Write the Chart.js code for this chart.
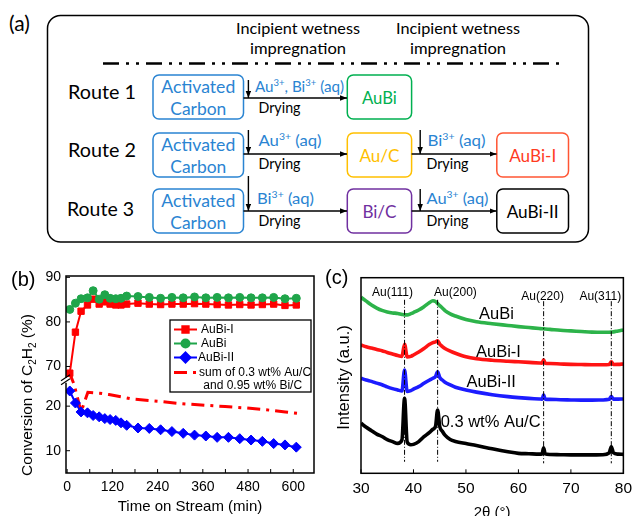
<!DOCTYPE html>
<html><head><meta charset="utf-8">
<script src="https://cdn.jsdelivr.net/npm/chart.js@4.4.1/dist/chart.umd.min.js"></script>
<style>
html,body{margin:0;padding:0;background:#fff;}
#wrap{position:relative;width:638px;height:516px;overflow:hidden;background:#fff;}
#scheme{position:absolute;left:0;top:0;}
#cb{position:absolute;left:0;top:255px;}
#cc{position:absolute;left:320px;top:255px;}
svg text{font-family:Lato,'Open Sans',sans-serif;}
</style></head><body>
<div id="wrap">
<svg id="scheme" width="638" height="255" viewBox="0 0 638 255" xmlns="http://www.w3.org/2000/svg">
<defs><marker id="ah" markerWidth="7" markerHeight="6" refX="7" refY="3" orient="auto" markerUnits="userSpaceOnUse"><path d="M0,0.3 L7,3 L0,5.7 z" fill="#000"/></marker></defs>
<text x="9" y="31" font-size="21">(a)</text>
<rect x="47.5" y="15.5" width="541" height="226.5" rx="13" fill="none" stroke="#000" stroke-width="1.5"/>
<text x="236" y="34" font-size="16" textLength="124" lengthAdjust="spacingAndGlyphs">Incipient wetness</text>
<text x="250" y="54" font-size="16" textLength="96" lengthAdjust="spacingAndGlyphs">impregnation</text>
<text x="396" y="34" font-size="16" textLength="124" lengthAdjust="spacingAndGlyphs">Incipient wetness</text>
<text x="410" y="54" font-size="16" textLength="96" lengthAdjust="spacingAndGlyphs">impregnation</text>
<line x1="103" y1="63.5" x2="563" y2="63.5" stroke="#000" stroke-width="2.6" stroke-dasharray="16 7 3 7 3 7"/>
<text x="68" y="99" font-size="20" textLength="68" lengthAdjust="spacingAndGlyphs">Route 1</text>
<text x="68" y="157" font-size="20" textLength="68" lengthAdjust="spacingAndGlyphs">Route 2</text>
<text x="67" y="216" font-size="20" textLength="67" lengthAdjust="spacingAndGlyphs">Route 3</text>
<g fill="none" stroke-width="1.5">
<rect x="153" y="75" width="90.5" height="44" rx="6" stroke="#2a84d2"/>
<rect x="347.3" y="75" width="64.3" height="44" rx="6" stroke="#00b050"/>
<rect x="153" y="133" width="90.5" height="44" rx="6" stroke="#2a84d2"/>
<rect x="347.3" y="133" width="64.3" height="44" rx="6" stroke="#ffc000"/>
<rect x="496.8" y="133" width="71.7" height="44" rx="6" stroke="#ff5533"/>
<rect x="153" y="189" width="90.5" height="44" rx="6" stroke="#2a84d2"/>
<rect x="347.3" y="189" width="64.3" height="44" rx="6" stroke="#7030a0"/>
<rect x="496.8" y="189" width="71.7" height="44" rx="6" stroke="#000"/>
</g>
<g fill="#2a84d2" font-size="18" text-anchor="middle">
<text x="198.3" y="93" textLength="74" lengthAdjust="spacingAndGlyphs">Activated</text>
<text x="198.3" y="115" textLength="56" lengthAdjust="spacingAndGlyphs">Carbon</text>
<text x="198.3" y="151" textLength="74" lengthAdjust="spacingAndGlyphs">Activated</text>
<text x="198.3" y="173" textLength="56" lengthAdjust="spacingAndGlyphs">Carbon</text>
<text x="198.3" y="207" textLength="74" lengthAdjust="spacingAndGlyphs">Activated</text>
<text x="198.3" y="229" textLength="56" lengthAdjust="spacingAndGlyphs">Carbon</text>
</g>
<g font-size="16.5" text-anchor="middle">
<text x="379.4" y="104" fill="#00b050" textLength="35" lengthAdjust="spacingAndGlyphs">AuBi</text>
<text x="379.4" y="162" fill="#ffc000" textLength="40" lengthAdjust="spacingAndGlyphs">Au/C</text>
<text x="532.7" y="162" fill="#ff3b1f" textLength="47" lengthAdjust="spacingAndGlyphs">AuBi-I</text>
<text x="379.4" y="218" fill="#7030a0" textLength="34" lengthAdjust="spacingAndGlyphs">Bi/C</text>
<text x="532.7" y="218" fill="#000" textLength="52" lengthAdjust="spacingAndGlyphs">AuBi-II</text>
</g>
<g fill="#2a84d2" font-size="16">
<text x="255" y="92" textLength="89" lengthAdjust="spacingAndGlyphs">Au<tspan dy="-6" font-size="10">3+</tspan><tspan dy="6">, Bi</tspan><tspan dy="-6" font-size="10">3+</tspan><tspan dy="6"> (aq)</tspan></text>
<text x="258.5" y="146" textLength="63" lengthAdjust="spacingAndGlyphs">Au<tspan dy="-6" font-size="10">3+</tspan><tspan dy="6"> (aq)</tspan></text>
<text x="427.5" y="146" textLength="58" lengthAdjust="spacingAndGlyphs">Bi<tspan dy="-6" font-size="10">3+</tspan><tspan dy="6"> (aq)</tspan></text>
<text x="257" y="204" textLength="57" lengthAdjust="spacingAndGlyphs">Bi<tspan dy="-6" font-size="10">3+</tspan><tspan dy="6"> (aq)</tspan></text>
<text x="426.5" y="204" textLength="62" lengthAdjust="spacingAndGlyphs">Au<tspan dy="-6" font-size="10">3+</tspan><tspan dy="6"> (aq)</tspan></text>
</g>
<g fill="#000" font-size="16">
<text x="258.5" y="113" textLength="42" lengthAdjust="spacingAndGlyphs">Drying</text>
<text x="258.5" y="169" textLength="42" lengthAdjust="spacingAndGlyphs">Drying</text>
<text x="426.5" y="169" textLength="42" lengthAdjust="spacingAndGlyphs">Drying</text>
<text x="258.5" y="226" textLength="42" lengthAdjust="spacingAndGlyphs">Drying</text>
<text x="426.5" y="226" textLength="42" lengthAdjust="spacingAndGlyphs">Drying</text>
</g>
<g stroke="#000" stroke-width="1.4" marker-end="url(#ah)">
<line x1="243.5" y1="98" x2="347" y2="98"/>
<line x1="248.4" y1="80" x2="248.4" y2="98"/>
<line x1="243.5" y1="154" x2="347" y2="154"/>
<line x1="248.4" y1="130" x2="248.4" y2="154"/>
<line x1="411.6" y1="154" x2="496.5" y2="154"/>
<line x1="420.2" y1="130" x2="420.2" y2="154"/>
<line x1="243.5" y1="211" x2="347" y2="211"/>
<line x1="248.4" y1="176" x2="248.4" y2="211"/>
<line x1="411.6" y1="211" x2="496.5" y2="211"/>
<line x1="420.2" y1="189" x2="420.2" y2="211"/>
</g>
</svg>
<canvas id="cb" width="320" height="261"></canvas>
<canvas id="cc" width="318" height="261"></canvas>
</div>
<script>
// ---------- Panel (b) data ----------
const timeMin = [7,22,37,54,69,85,100,114,129,143,158,188,218,248,278,308,338,368,398,428,458,488,518,548,578,608];
const convAuBiI = [68.5,77.7,82.4,83.8,85.1,84.0,84.5,84.0,83.8,83.8,84.0,84.2,84.0,83.9,84.0,84.0,84.1,84.0,83.9,83.8,83.9,83.8,83.9,84.0,83.7,83.8];
const convAuBi = [82.8,84.2,85.2,85.4,87.0,85.1,86.1,85.3,85.2,85.3,85.8,85.7,85.5,85.3,85.5,85.4,85.6,85.4,85.5,85.4,85.5,85.4,85.4,85.5,85.2,85.3];
const convAuBiII = [23.4,20.7,18.7,18.5,17.9,17.6,17.2,17.0,16.8,16.25,15.7,15.1,15.0,14.7,14.3,13.9,13.5,13.3,13.0,13.0,12.7,12.4,12.1,11.6,11.3,10.8];
const sumTime = [4,18,37,55,86,111,173,240,297,366,419,473,526,579,610];
const sumConv = [69.0,25.0,18.7,23.1,22.9,22.6,21.6,21.1,20.6,20.2,19.9,19.6,19.2,18.7,18.4];
const timeTickLabels = [0,120,240,360,480,600];
const timeMinorTicks = [0,60,120,180,240,300,360,420,480,540,600];
const convTickLabels = [10,20,70,80,90];
const legendLabels = ['AuBi-I','AuBi','AuBi-II',['sum of 0.3 wt% Au/C',' and 0.95 wt% Bi/C']];

// ---------- Panel (c) data ----------
const twoTheta = [30,31,32,33,34,35,36,37,37.8,38.3,38.8,39.5,40,41,42,43,43.7,44.2,44.6,45,45.5,46,47,48,50,52,55,58,60,62,64,64.5,64.8,65.1,66,68,70,72,74,76,77.3,77.7,78.1,79,80];
const xrdAuBi = [90,88,86,84.5,83.3,82.5,82,81.7,81.2,81,81,81.6,82.2,83.5,85.2,87.2,88.2,87.8,86.8,85.7,84.5,83.2,81.5,80.4,78.6,77.5,76.5,75.6,75,74.5,74,73.9,73.9,73.8,73.6,73.1,72.8,72.5,72.2,72.1,72.1,72.2,72.3,72.8,73.3];
const xrdAuBiI = [65.6,64.7,64.0,63.3,62.7,61.8,61.0,60.2,59.8,66.0,59.5,59.8,60.5,62.0,63.8,65.8,66.8,67.2,67.8,66.0,64.8,63.8,62.5,61.4,59.6,58.6,57.8,57.3,57.0,56.7,56.4,56.3,58.0,56.3,56.1,55.9,55.7,55.6,55.5,55.5,55.6,57.0,55.6,55.7,55.9];
const xrdAuBiII = [48.6,47.7,47.0,46.1,45.3,44.2,43.3,42.6,42.1,52.8,41.8,42.3,43.0,44.3,46.0,47.6,48.6,49.5,51.9,49.0,47.7,46.6,45.2,44.0,42.6,41.5,40.2,39.2,38.7,38.3,38.0,37.9,40.0,37.9,37.8,37.6,37.5,37.4,37.4,37.5,37.8,39.3,37.9,37.9,38.0];
const xrdAuC = [25.6,23.5,21.8,20.0,18.8,17.2,16.2,15.3,17.0,38.3,16.0,14.6,14.8,16.2,18.7,20.8,22.5,24.0,32.4,24.0,21.5,19.5,17.3,16.3,15.2,14.2,12.5,11.0,10.2,10.0,9.8,9.9,13.1,9.9,9.6,9.5,9.4,9.4,9.4,9.5,10.5,13.6,10.5,9.8,9.7];
const xrdTickLabels = [30,40,50,60,70,80];
const peakNames = ['Au(111)','Au(200)','Au(220)','Au(311)'];
const peakPos = [38.3,44.6,64.8,77.7];
const peakLabelX = [36.0,48.0,64.6,75.6];
const peakLabelY = [92.5,92.5,90.5,90.5];
const refTop = [88.7,88.7,88.0,88.0];
const refBottom = [5.9,5.9,5.1,5.1];
const sampleNames = ['AuBi','AuBi-I','AuBi-II','0.3 wt% Au/C'];
const sampleLabelX = [55.8,56.2,54.8,54.7];
const sampleLabelY = [81.4,62.0,46.2,26.2];

const FONT = "'Liberation Sans', Arial, sans-serif";
Chart.defaults.font.family = FONT;
Chart.defaults.color = '#000';

// axis break mapping for panel (b)
const BREAK_LO = 25.7, BREAK_HI = 66.8;
const toAxis = v => v >= BREAK_HI ? v - (BREAK_HI - BREAK_LO) : v;
const fromAxis = a => a > BREAK_LO + 0.01 ? a + (BREAK_HI - BREAK_LO) : a;
const pts = (xs, ys, f) => xs.map((x, i) => ({x: x, y: f ? f(ys[i]) : ys[i]}));

const RED = '#ff0000', GREEN = '#1fa54a', BLUE = '#0000ff';
const SUMDASH = [13,6,3,6];

const panelB = {
  id: 'panelB',
  afterDraw(chart) {
    const {ctx, chartArea: a, scales: {x, y}} = chart;
    const ln = (x1, y1, x2, y2) => { ctx.beginPath(); ctx.moveTo(x1, y1); ctx.lineTo(x2, y2); ctx.stroke(); };
    ctx.save();
    ctx.strokeStyle = '#000'; ctx.lineWidth = 1.5;
    ctx.strokeRect(a.left, a.top, a.right - a.left, a.bottom - a.top);
    ctx.lineWidth = 1;
    timeMinorTicks.forEach(t => { const p = x.getPixelForValue(t); ln(p, a.bottom, p, a.bottom - 4); });
    convTickLabels.forEach(v => { const p = y.getPixelForValue(toAxis(v)); ln(a.left, p, a.left + 4, p); });
    // axis break marks
    const pb = y.getPixelForValue(BREAK_LO);
    ctx.fillStyle = '#fff'; ctx.fillRect(a.left - 2, pb - 3, 4, 5);
    ctx.lineWidth = 1.2;
    ln(a.left - 5, pb - 0, a.left + 4, pb - 6);
    ln(a.left - 5, pb + 4, a.left + 4, pb - 2);
    // legend
    const L = {l: 170, t: 65, r: 311, b: 137};
    ctx.fillStyle = '#fff'; ctx.fillRect(L.l, L.t, L.r - L.l, L.b - L.t);
    ctx.strokeStyle = '#000'; ctx.lineWidth = 1.3; ctx.strokeRect(L.l, L.t, L.r - L.l, L.b - L.t);
    const rows = [74.5, 88.5, 102.5, 117.5];
    ctx.font = '12px ' + FONT; ctx.textBaseline = 'middle'; ctx.textAlign = 'left';
    chart.data.datasets.slice(0, 4).forEach((ds, i) => {
      const yy = rows[i];
      ctx.strokeStyle = ds.borderColor; ctx.fillStyle = ds.borderColor;
      ctx.lineWidth = ds.borderWidth;
      ctx.setLineDash(ds.borderDash || []);
      ln(174, yy, 197, yy);
      ctx.setLineDash([]);
      if (ds.pointRadius > 0) {
        Chart.helpers.drawPoint(ctx, {pointStyle: ds.pointStyle, radius: ds.pointRadius, rotation: 0, borderWidth: 1}, 185.5, yy);
      }
      ctx.fillStyle = '#000';
      const lab = legendLabels[i];
      if (Array.isArray(lab)) { ctx.fillText(lab[0], 199, yy); ctx.fillText(lab[1], 200, yy + 13); }
      else ctx.fillText(lab, i === 2 ? 198 : 201, yy);
    });
    // titles
    ctx.fillStyle = '#000';
    ctx.font = '15px ' + FONT; ctx.textAlign = 'center'; ctx.textBaseline = 'middle';
    ctx.fillText('Time on Stream (min)', (a.left + a.right) / 2, 252);
    ctx.save();
    ctx.translate(28, 140); ctx.rotate(-Math.PI / 2);
    const parts = [['Conversion of C', 0], ['2', 1], ['H', 0], ['2', 1], [' (%)', 0]];
    const fN = '15.5px ' + FONT, fS = '10px ' + FONT;
    let tot = 0;
    parts.forEach(p => { ctx.font = p[1] ? fS : fN; tot += ctx.measureText(p[0]).width; });
    let cx = -tot / 2; ctx.textAlign = 'left';
    parts.forEach(p => { ctx.font = p[1] ? fS : fN; ctx.fillText(p[0], cx, p[1] ? 5 : 0); cx += ctx.measureText(p[0]).width; });
    ctx.restore();
    ctx.font = '20px ' + FONT; ctx.textAlign = 'left'; ctx.textBaseline = 'middle';
    ctx.fillText('(b)', 11, 25);
    ctx.restore();
  }
};

new Chart(document.getElementById('cb'), {
  type: 'line',
  data: {
    datasets: [
      {label: 'AuBi-I', data: pts(timeMin, convAuBiI, toAxis), borderColor: RED, backgroundColor: RED, borderWidth: 2, pointStyle: 'rect', pointRadius: 4.5, pointBorderWidth: 1, order: 2},
      {label: 'AuBi', data: pts(timeMin, convAuBi, toAxis), borderColor: GREEN, backgroundColor: GREEN, borderWidth: 2, pointStyle: 'circle', pointRadius: 4, pointBorderWidth: 1, order: 1},
      {label: 'AuBi-II', data: pts(timeMin, convAuBiII, toAxis), borderColor: BLUE, backgroundColor: BLUE, borderWidth: 2, pointStyle: 'rectRot', pointRadius: 5, pointBorderWidth: 1, order: 0},
      {label: 'sum', data: pts(sumTime, sumConv, toAxis), borderColor: RED, backgroundColor: RED, borderWidth: 3, borderDash: SUMDASH, pointRadius: 0, order: 3}
    ]
  },
  options: {
    responsive: false, animation: false, devicePixelRatio: 1,
    layout: {padding: {left: 0, right: 6, top: 21, bottom: 0}},
    plugins: {legend: {display: false}, tooltip: {enabled: false}},
    scales: {
      x: {type: 'linear', min: -3, max: 655,
        afterBuildTicks: s => { s.ticks = timeTickLabels.map(v => ({value: v})); },
        afterFit: s => { s.height = 43; },
        grid: {display: false, drawTicks: false}, border: {display: false},
        ticks: {font: {size: 14}, color: '#000', padding: 6, maxRotation: 0, autoSkip: false}},
      y: {type: 'linear', min: 5, max: 49.2,
        afterBuildTicks: s => { s.ticks = convTickLabels.map(v => ({value: toAxis(v)})); },
        afterFit: s => { s.width = 66; },
        grid: {display: false, drawTicks: false}, border: {display: false},
        ticks: {font: {size: 14}, color: '#000', padding: 5, callback: v => String(Math.round(fromAxis(v)))}}
    }
  },
  plugins: [panelB]
});

// ---------- Panel (c) ----------
const panelC = {
  id: 'panelC',
  afterDraw(chart) {
    const {ctx, chartArea: a, scales: {x, y}} = chart;
    const ln = (x1, y1, x2, y2) => { ctx.beginPath(); ctx.moveTo(x1, y1); ctx.lineTo(x2, y2); ctx.stroke(); };
    ctx.save();
    ctx.strokeStyle = '#000'; ctx.lineWidth = 1.5;
    ctx.strokeRect(a.left, a.top, a.right - a.left, a.bottom - a.top);
    ctx.lineWidth = 1;
    xrdTickLabels.forEach(v => { const p = x.getPixelForValue(v); ln(p, a.bottom, p, a.bottom - 4); });
    ctx.fillStyle = '#000';
    ctx.font = '12px ' + FONT; ctx.textAlign = 'center'; ctx.textBaseline = 'middle';
    peakNames.forEach((n, i) => ctx.fillText(n, x.getPixelForValue(peakLabelX[i]), y.getPixelForValue(peakLabelY[i])));
    ctx.font = '16.5px ' + FONT;
    sampleNames.forEach((n, i) => {
      ctx.fillText(n, x.getPixelForValue(sampleLabelX[i]), y.getPixelForValue(sampleLabelY[i]));
    });
    ctx.font = '15px ' + FONT;
    ctx.fillText('2\u03b8 (\u00b0)', (a.left + a.right) / 2, 258);
    ctx.save();
    ctx.translate(24, (a.top + a.bottom) / 2 + 2); ctx.rotate(-Math.PI / 2);
    ctx.font = '16.5px ' + FONT;
    ctx.fillText('Intensity (a.u.)', 0, 0);
    ctx.restore();
    ctx.font = '20px ' + FONT; ctx.textAlign = 'left';
    ctx.fillText('(c)', 5, 23);
    ctx.restore();
  }
};

const refSets = peakPos.map((p, i) => ({
  label: peakNames[i], data: [{x: p, y: refTop[i]}, {x: p, y: refBottom[i]}],
  borderColor: '#000', borderWidth: 1, borderDash: [5, 2, 1, 2], pointRadius: 0, order: 0
}));
const xrdStyle = c => ({borderColor: c, backgroundColor: c, borderWidth: 3.6, pointRadius: 0, cubicInterpolationMode: 'monotone', order: 1});

new Chart(document.getElementById('cc'), {
  type: 'line',
  data: {
    datasets: [
      Object.assign({label: 'AuBi', data: pts(twoTheta, xrdAuBi)}, xrdStyle('#2db34a')),
      Object.assign({label: 'AuBi-I', data: pts(twoTheta, xrdAuBiI)}, xrdStyle('#ff1414')),
      Object.assign({label: 'AuBi-II', data: pts(twoTheta, xrdAuBiII)}, xrdStyle('#1c1cff')),
      Object.assign({label: '0.3 wt% Au/C', data: pts(twoTheta, xrdAuC)}, xrdStyle('#000000'))
    ].concat(refSets)
  },
  options: {
    responsive: false, animation: false, devicePixelRatio: 1,
    layout: {padding: {left: 0, right: 11.3, top: 22.7, bottom: 0}},
    plugins: {legend: {display: false}, tooltip: {enabled: false}},
    scales: {
      x: {type: 'linear', min: 30, max: 80,
        afterBuildTicks: s => { s.ticks = xrdTickLabels.map(v => ({value: v})); },
        afterFit: s => { s.height = 42.7; },
        grid: {display: false, drawTicks: false}, border: {display: false},
        ticks: {font: {size: 15.5}, color: '#000', padding: 6, maxRotation: 0, autoSkip: false}},
      y: {type: 'linear', min: 0, max: 100,
        afterFit: s => { s.width = 41; },
        grid: {display: false, drawTicks: false}, border: {display: false},
        ticks: {display: false}}
    }
  },
  plugins: [panelC]
});
</script>
</body></html>
